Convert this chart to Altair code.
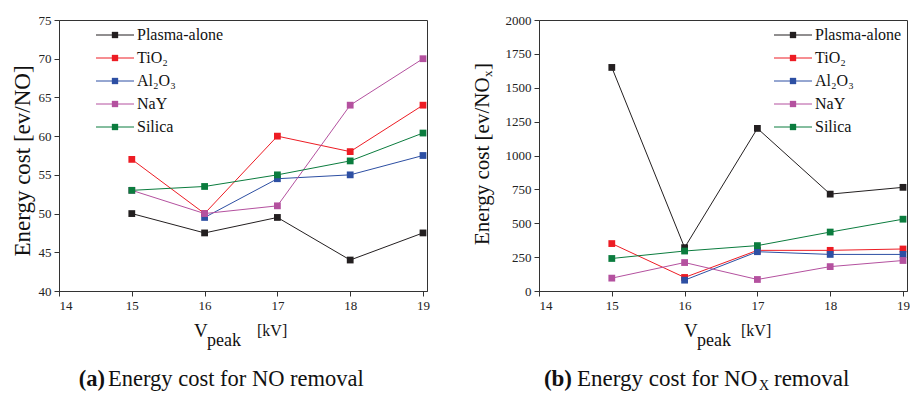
import altair as alt
import pandas as pd

# ---------------- data ----------------
series = ["Plasma-alone", "TiO2", "Al2O3", "NaY", "Silica"]
labels = ["Plasma-alone", "TiO₂", "Al₂O₃", "NaY", "Silica"]
colors = ["#231f20", "#ed1c24", "#2d4fa3", "#b4519f", "#0b7c3e"]

v_peak = [15, 16, 17, 18, 19]
x_ticks = [14, 15, 16, 17, 18, 19]

# (a) energy cost for NO removal [eV/NO]
no_plasma = [50, 47.5, 49.5, 44, 47.5]
no_tio2 = [57, 50, 60, 58, 64]
no_al2o3 = [None, 49.5, 54.5, 55, 57.5]
no_nay = [53, 50, 51, 64, 70]
no_silica = [53, 53.5, 55, 56.8, 60.4]
no_ticks = [40, 45, 50, 55, 60, 65, 70, 75]

# (b) energy cost for NOx removal [eV/NOx]
nox_plasma = [1650, 320, 1200, 715, 765]
nox_tio2 = [350, 100, 300, 300, 310]
nox_al2o3 = [None, 80, 290, 270, 270]
nox_nay = [95, 210, 85, 180, 225]
nox_silica = [240, 295, 335, 435, 530]
nox_ticks = [0, 250, 500, 750, 1000, 1250, 1500, 1750, 2000]

FONT = "Liberation Serif"
W, H = 368, 271


def long_df(cols):
    rows = []
    for s, vals in zip(series, cols):
        for x, y in zip(v_peak, vals):
            if y is not None:
                rows.append({"V": x, "E": y, "series": s})
    return pd.DataFrame(rows)


def txt(text, x, y, size, weight="normal", align="left", angle=0, baseline="alphabetic"):
    return alt.Chart(pd.DataFrame({"t": [text]})).mark_text(
        font=FONT, fontSize=size, fontWeight=weight, align=align, angle=angle,
        baseline=baseline, color="#111"
    ).encode(x=alt.value(x), y=alt.value(y), text="t:N")


def ax(values):
    return alt.Axis(values=values, title=None, format="d", grid=False,
                    labelFont=FONT, labelFontSize=13, labelColor="#222",
                    domainColor="#333", domainWidth=1, tickColor="#333", tickWidth=1,
                    tickSize=5, labelPadding=3)


def panel(cols, ydom, yticks, leg_x, texts):
    df = long_df(cols)
    xs = alt.Scale(domain=[14, 19.055], nice=False, zero=False)
    ys = alt.Scale(domain=ydom, nice=False, zero=False)
    cs = alt.Scale(domain=series, range=colors)
    enc = dict(
        x=alt.X("V:Q", scale=xs, axis=ax(x_ticks)),
        y=alt.Y("E:Q", scale=ys, axis=ax(yticks)),
        color=alt.Color("series:N", scale=cs, legend=None),
    )
    lines = alt.Chart(df).mark_line(strokeWidth=1).encode(**enc)
    pts = alt.Chart(df).mark_point(shape="square", filled=True, size=46, opacity=1).encode(**enc)
    core = alt.layer(lines, pts)

    ldf = pd.DataFrame({"series": series, "label": labels, "row": list(range(len(series)))})
    ly = alt.Y("row:Q", scale=alt.Scale(domain=[0, len(series) - 1], range=[15, 107], nice=False, zero=False),
               axis=None)
    lrule = alt.Chart(ldf).mark_rule(strokeWidth=1).encode(
        x=alt.value(leg_x), x2=alt.value(leg_x + 38), y=ly,
        color=alt.Color("series:N", scale=cs, legend=None),
    )
    lpt = alt.Chart(ldf).mark_point(shape="square", filled=True, size=40, opacity=1).encode(
        x=alt.value(leg_x + 19), y=ly,
        color=alt.Color("series:N", scale=cs, legend=None),
    )
    ltxt = alt.Chart(ldf).mark_text(font=FONT, fontSize=16, align="left", baseline="middle",
                                    color="#111").encode(
        x=alt.value(leg_x + 41), y=ly, text="label:N"
    )
    legend = alt.layer(lrule, lpt, ltxt)
    return alt.layer(core, legend, *texts).resolve_scale(y="independent").properties(width=W, height=H)


left_texts = [
    txt("Energy cost [ev/NO]", -36, 141, 23, align="center", angle=270, baseline="middle"),
    txt("V", 135, 317, 19),
    txt("peak", 148, 326, 18),
    txt("[kV]", 198, 316, 16),
    txt("(a)", 46, 366, 22.5, weight="bold", align="right"),
    txt("Energy cost for NO removal", 49, 366, 22.5),
]
right_texts = [
    txt("Energy cost [ev/NO", -56, 225, 21, align="left", angle=270, baseline="middle"),
    txt("x", -51, 57, 13, align="left", angle=270, baseline="middle"),
    txt("]", -56, 50, 21, align="left", angle=270, baseline="middle"),
    txt("V", 145, 317, 19),
    txt("peak", 158, 326, 18),
    txt("[kV]", 202, 316, 16),
    txt("(b)", 33, 366, 23, weight="bold", align="right"),
    txt("Energy cost for NO", 38, 366, 23),
    txt("X", 220, 370, 14),
    txt("removal", 235, 366, 23),
]

left = panel([no_plasma, no_tio2, no_al2o3, no_nay, no_silica], [40, 75], no_ticks, 37, left_texts)
right = panel([nox_plasma, nox_tio2, nox_al2o3, nox_nay, nox_silica], [0, 2000], nox_ticks, 235, right_texts)

chart = alt.hconcat(left, right, spacing=41).properties(
    padding={"left": 11, "top": 13, "right": 0, "bottom": 0}, background="white"
).configure_view(stroke="#333", strokeWidth=1)

chart.save("out.html", embed_options={"renderer": "svg", "actions": False})
